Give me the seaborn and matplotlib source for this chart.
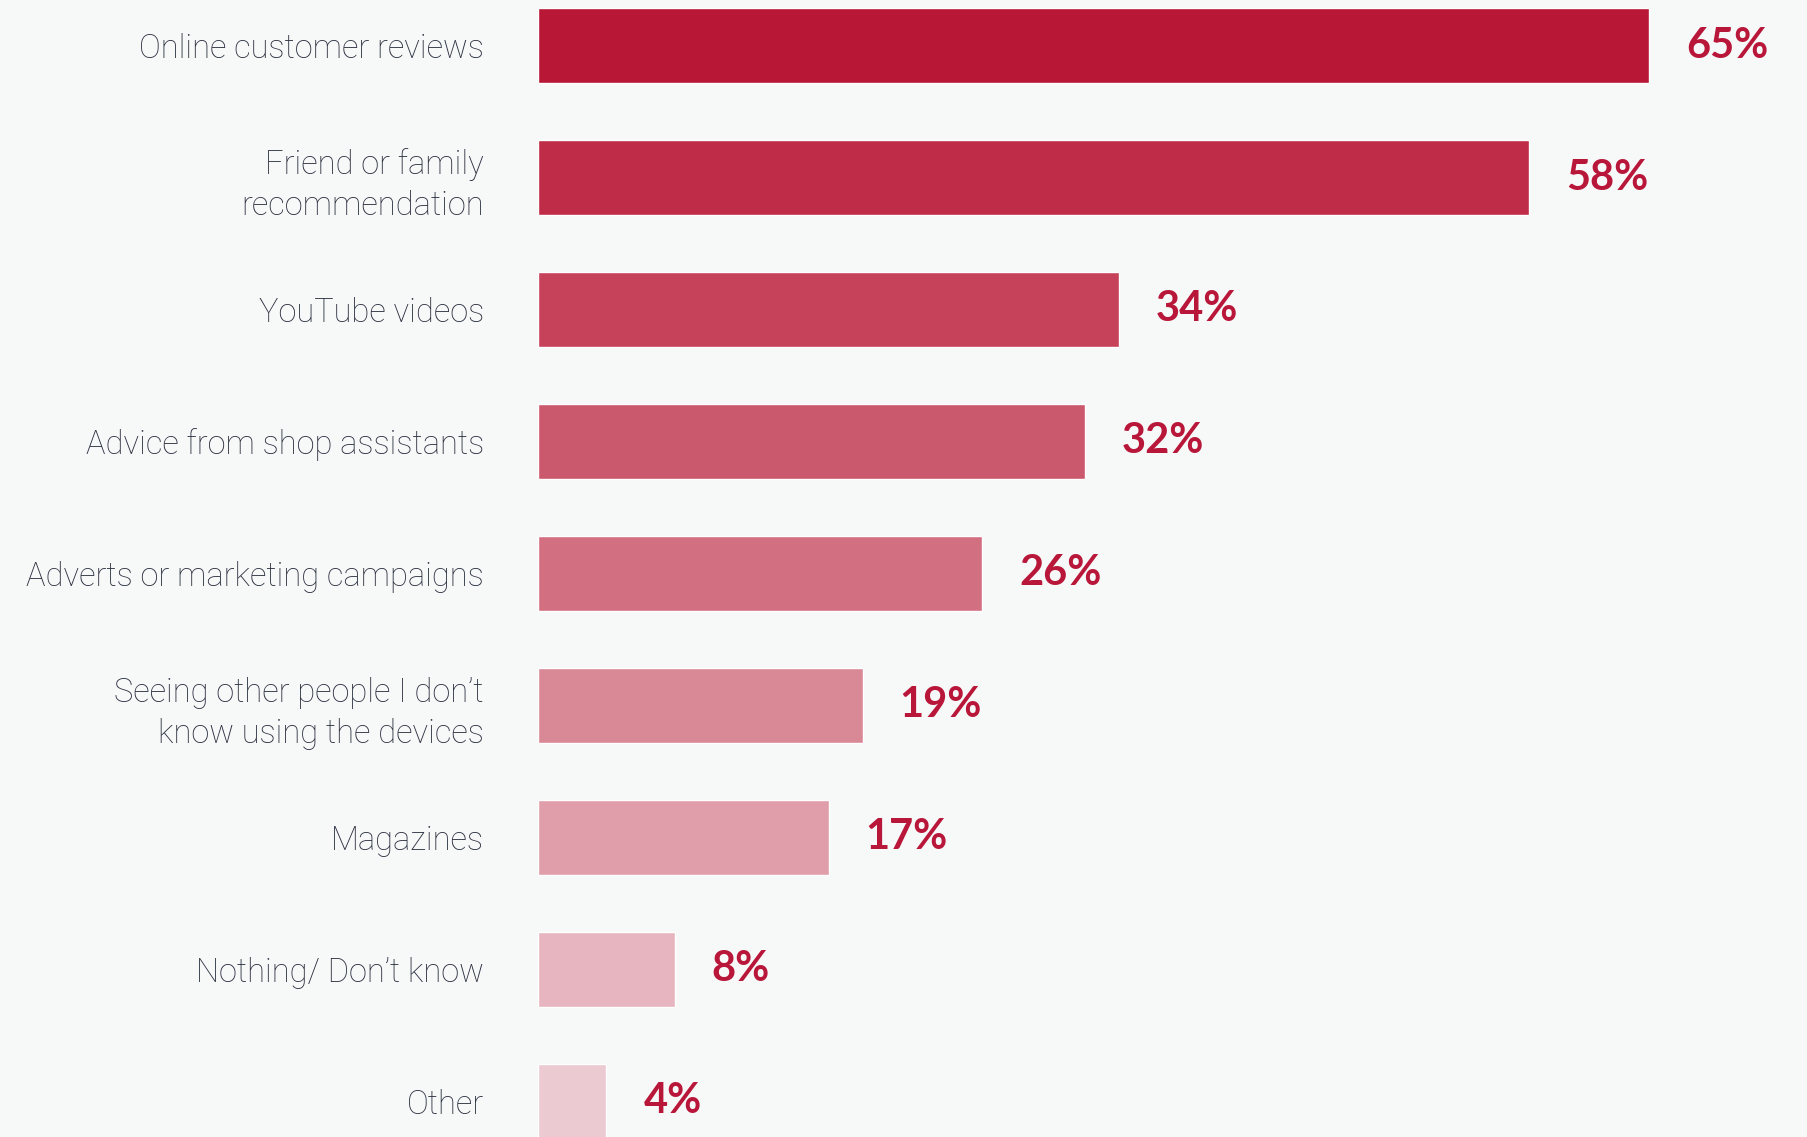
import matplotlib
matplotlib.use("Agg")
import matplotlib.pyplot as plt
import seaborn as sns
import pandas as pd

categories = [
    "Online customer reviews",
    "Friend or family\nrecommendation",
    "YouTube videos",
    "Advice from shop assistants",
    "Adverts or marketing campaigns",
    "Seeing other people I don\u2019t\nknow using the devices",
    "Magazines",
    "Nothing/ Don\u2019t know",
    "Other",
]
values = [65, 58, 34, 32, 26, 19, 17, 8, 4]
value_labels = ["65%", "58%", "34%", "32%", "26%", "19%", "17%", "8%", "4%"]
bar_colors = ["#B81736", "#BE2C48", "#C5425A", "#CB596D", "#D27082",
              "#D98896", "#E09EAA", "#E6B5BF", "#EBCAD2"]

BG = "#F7F8F8"
ACCENT = "#B8173A"
TEXT = "#2B3140"

sns.set_theme(style="white")
plt.rcParams["font.family"] = ["Roboto", "DejaVu Sans"]

df = pd.DataFrame({"category": categories, "value": values})

fig = plt.figure(figsize=(18.08, 11.37), dpi=100, facecolor=BG)
ax = fig.add_axes([538 / 1808, 0, 1 - 538 / 1808, 1])
ax.set_facecolor(BG)

sns.barplot(data=df, y="category", x="value", hue="category",
            palette=bar_colors, orient="h", width=0.57,
            saturation=1, legend=False, ax=ax)

ax.set_xlim(0, 74.3)
ax.set_ylim(8.27, -0.345)
ax.set_xlabel("")
ax.set_ylabel("")
ax.set_xticks([])
for s in ax.spines.values():
    s.set_visible(False)

ax.tick_params(axis="y", length=0, pad=39)
ax.set_yticks(range(len(categories)))
ax.set_yticklabels(categories, fontsize=23.5, color=TEXT,
                   fontweight="light", linespacing=1.35)

for i, (v, lab) in enumerate(zip(values, value_labels)):
    ax.annotate(lab, xy=(v, i), xytext=(37, 0), textcoords="offset pixels",
                ha="left", va="center", fontsize=30, fontweight="bold",
                color=ACCENT, family=["Lato", "DejaVu Sans"])

fig.savefig("out.png", dpi=100, facecolor=BG)
